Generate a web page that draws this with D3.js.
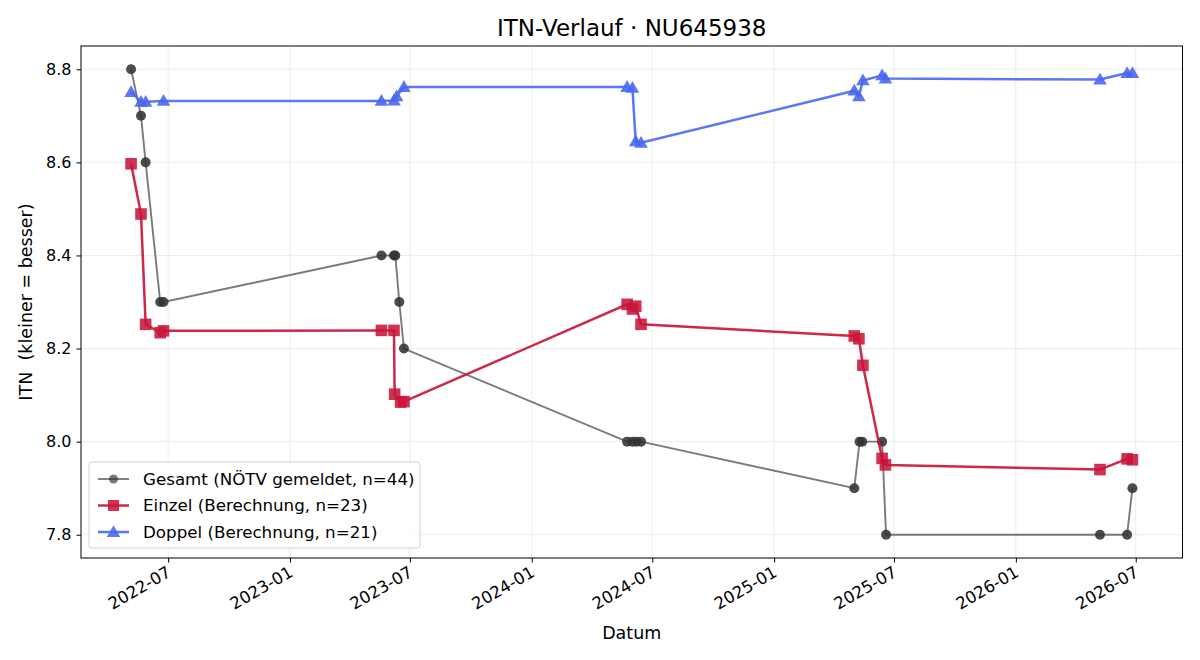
<!DOCTYPE html>
<html>
<head>
<meta charset="utf-8">
<script src="https://cdn.jsdelivr.net/npm/d3@7"></script>
<style>
  body { margin: 0; background: #fff; }
  svg { font-family: "DejaVu Sans", sans-serif; }
</style>
</head>
<body>
<div id="chart"></div>
<script>
// Gesamt (NÖTV gemeldet)
var gesamtDates = ["2022-05-06","2022-05-21","2022-05-28","2022-06-19","2022-06-24",
  "2023-05-19","2023-06-07","2023-06-09","2023-06-15","2023-06-22",
  "2024-05-24","2024-06-01","2024-06-07","2024-06-14",
  "2025-05-02","2025-05-10","2025-05-14","2025-06-13","2025-06-19",
  "2026-05-08","2026-06-18","2026-06-26"];
var gesamtValues = [8.8, 8.7, 8.6, 8.3, 8.3,
  8.4, 8.4, 8.4, 8.3, 8.2,
  8.0, 8.0, 8.0, 8.0,
  7.9, 8.0, 8.0, 8.0, 7.8,
  7.8, 7.8, 7.9];

// Einzel (Berechnung)
var einzelDates = ["2022-05-06","2022-05-21","2022-05-28","2022-06-19","2022-06-24",
  "2023-05-19","2023-06-07","2023-06-08","2023-06-17","2023-06-22",
  "2024-05-24","2024-06-01","2024-06-06","2024-06-14",
  "2025-05-02","2025-05-09","2025-05-15","2025-06-13","2025-06-18",
  "2026-05-08","2026-06-18","2026-06-26"];
var einzelValues = [8.597, 8.489, 8.252, 8.234, 8.238,
  8.239, 8.239, 8.102, 8.085, 8.086,
  8.295, 8.285, 8.291, 8.252,
  8.227, 8.221, 8.164, 7.964, 7.950,
  7.940, 7.963, 7.961];

// Doppel (Berechnung)
var doppelDates = ["2022-05-06","2022-05-21","2022-05-28","2022-06-24",
  "2023-05-19","2023-06-07","2023-06-11","2023-06-22",
  "2024-05-24","2024-06-01","2024-06-06","2024-06-14",
  "2025-05-02","2025-05-09","2025-05-15","2025-06-13","2025-06-18",
  "2026-05-08","2026-06-18","2026-06-26"];
var doppelValues = [8.751, 8.730, 8.730, 8.732,
  8.732, 8.733, 8.742, 8.762,
  8.762, 8.760, 8.645, 8.642,
  8.754, 8.742, 8.776, 8.787, 8.780,
  8.778, 8.792, 8.792];

var yTicks = [7.8, 8.0, 8.2, 8.4, 8.6, 8.8];
var legendLabels = ["Gesamt (NÖTV gemeldet, n=44)", "Einzel (Berechnung, n=23)", "Doppel (Berechnung, n=21)"];

var parseDate = d3.timeParse("%Y-%m-%d");
function zipSeries(dates, values) {
  return dates.map(function(d, i) { return {date: parseDate(d), value: values[i]}; });
}
var gesamt = zipSeries(gesamtDates, gesamtValues),
    einzel = zipSeries(einzelDates, einzelValues),
    doppel = zipSeries(doppelDates, doppelValues);

var W = 1200, H = 660;
var margin = {top: 46, right: 17.5, bottom: 102, left: 81},
    width = W - margin.left - margin.right,
    height = H - margin.top - margin.bottom;

var all = gesamt.concat(einzel, doppel);
var xExt = d3.extent(all, function(d) { return +d.date; });
var xPad = (xExt[1] - xExt[0]) * 0.05;
var x = d3.scaleTime()
    .domain([new Date(xExt[0] - xPad), new Date(xExt[1] + xPad)])
    .range([0, width]);

var yExt = d3.extent(all, function(d) { return d.value; });
var yPad = (yExt[1] - yExt[0]) * 0.05;
var y = d3.scaleLinear()
    .domain([yExt[0] - yPad, yExt[1] + yPad])
    .range([height, 0]);

var svg = d3.select("#chart").append("svg")
    .attr("width", W)
    .attr("height", H);

var g = svg.append("g")
    .attr("transform", "translate(" + margin.left + "," + margin.top + ")");

var xTicks = d3.timeMonth.every(6).range(x.domain()[0], x.domain()[1]);

// grid
g.append("g").selectAll("line")
    .data(xTicks)
    .enter().append("line")
    .attr("x1", function(d) { return x(d); })
    .attr("x2", function(d) { return x(d); })
    .attr("y1", 0).attr("y2", height)
    .attr("stroke", "#b0b0b0").attr("stroke-opacity", 0.3).attr("stroke-width", 0.8);
g.append("g").selectAll("line")
    .data(yTicks)
    .enter().append("line")
    .attr("x1", 0).attr("x2", width)
    .attr("y1", function(d) { return y(d); })
    .attr("y2", function(d) { return y(d); })
    .attr("stroke", "#b0b0b0").attr("stroke-opacity", 0.3).attr("stroke-width", 0.8);

var line = d3.line()
    .x(function(d) { return x(d.date); })
    .y(function(d) { return y(d.value); });

// Gesamt
g.append("path").datum(gesamt)
    .attr("fill", "none").attr("stroke", "#333").attr("stroke-opacity", 0.65)
    .attr("stroke-width", 1.9).attr("d", line);
g.append("g").selectAll("circle")
    .data(gesamt).enter().append("circle")
    .attr("cx", function(d) { return x(d.date); })
    .attr("cy", function(d) { return y(d.value); })
    .attr("r", 5)
    .attr("fill", "#333").attr("fill-opacity", 0.88);

// Einzel
var einzelColor = "#c8163a";
g.append("path").datum(einzel)
    .attr("fill", "none").attr("stroke", einzelColor).attr("stroke-opacity", 0.92)
    .attr("stroke-width", 2.5).attr("d", line);
g.append("g").selectAll("rect")
    .data(einzel).enter().append("rect")
    .attr("x", function(d) { return x(d.date) - 5.8; })
    .attr("y", function(d) { return y(d.value) - 5.8; })
    .attr("width", 11.6).attr("height", 11.6)
    .attr("fill", einzelColor).attr("fill-opacity", 0.88);

// Doppel
var doppelColor = "#4a68ef";
var tri = d3.symbol().type(d3.symbolTriangle).size(80);
g.append("path").datum(doppel)
    .attr("fill", "none").attr("stroke", doppelColor).attr("stroke-opacity", 0.9)
    .attr("stroke-width", 2.5).attr("d", line);
g.append("g").selectAll("path")
    .data(doppel).enter().append("path")
    .attr("transform", function(d) { return "translate(" + x(d.date) + "," + (y(d.value) + 1) + ")"; })
    .attr("d", tri)
    .attr("fill", doppelColor).attr("fill-opacity", 0.9);

// frame
g.append("rect")
    .attr("width", width).attr("height", height)
    .attr("fill", "none").attr("stroke", "#000").attr("stroke-width", 1);

// axes
var xAxis = d3.axisBottom(x)
    .tickValues(xTicks)
    .tickFormat(d3.timeFormat("%Y-%m"))
    .tickSize(4.5).tickPadding(3);
var xg = g.append("g")
    .attr("transform", "translate(0," + height + ")")
    .call(xAxis);
xg.select(".domain").remove();
xg.selectAll(".tick line").attr("stroke", "#000");
xg.selectAll("text")
    .attr("font-family", "DejaVu Sans")
    .attr("font-size", 16.5)
    .attr("fill", "#000")
    .style("text-anchor", "end")
    .attr("dy", "0.7em")
    .attr("transform", "translate(-6,1) rotate(-30)");

var yAxis = d3.axisLeft(y)
    .tickValues(yTicks)
    .tickFormat(d3.format(".1f"))
    .tickSize(4.5).tickPadding(5);
var yg = g.append("g").call(yAxis);
yg.select(".domain").remove();
yg.selectAll(".tick line").attr("stroke", "#000");
yg.selectAll("text")
    .attr("font-family", "DejaVu Sans")
    .attr("font-size", 16)
    .attr("fill", "#000");

// labels
svg.append("text")
    .attr("x", margin.left + width / 2).attr("y", 36)
    .attr("text-anchor", "middle")
    .attr("font-size", 23)
    .text("ITN-Verlauf · NU645938");

svg.append("text")
    .attr("x", margin.left + width / 2).attr("y", 639)
    .attr("text-anchor", "middle")
    .attr("font-size", 17.5)
    .text("Datum");

svg.append("text")
    .attr("transform", "translate(32," + (margin.top + height / 2) + ") rotate(-90)")
    .attr("text-anchor", "middle")
    .attr("font-size", 17.5)
    .style("white-space", "pre")
    .text("ITN  (kleiner = besser)");

// legend
var legend = g.append("g")
    .attr("transform", "translate(8," + (height - 96) + ")");
legend.append("rect")
    .attr("width", 331).attr("height", 86)
    .attr("rx", 3)
    .attr("fill", "#fff").attr("fill-opacity", 0.8)
    .attr("stroke", "#d0d0d0");

var items = legend.selectAll(".item")
    .data(legendLabels)
    .enter().append("g")
    .attr("class", "item")
    .attr("transform", function(d, i) { return "translate(0," + (17 + i * 26.5) + ")"; });

items.append("line")
    .attr("x1", 9).attr("x2", 40)
    .attr("stroke", function(d, i) { return ["#333", einzelColor, doppelColor][i]; })
    .attr("stroke-opacity", function(d, i) { return [0.65, 0.92, 0.9][i]; })
    .attr("stroke-width", function(d, i) { return i == 0 ? 1.9 : 2.5; });

items.each(function(d, i) {
  var it = d3.select(this);
  if (i == 0) {
    it.append("circle").attr("cx", 24.5).attr("r", 4.5)
      .attr("fill", "#333").attr("fill-opacity", 0.65);
  } else if (i == 1) {
    it.append("rect").attr("x", 19).attr("y", -5.5).attr("width", 11).attr("height", 11)
      .attr("fill", einzelColor).attr("fill-opacity", 0.88);
  } else {
    it.append("path").attr("transform", "translate(24.5,1)").attr("d", tri)
      .attr("fill", doppelColor).attr("fill-opacity", 0.9);
  }
});

items.append("text")
    .attr("x", 54).attr("dy", "0.35em")
    .attr("font-size", 16.7)
    .text(function(d) { return d; });
</script>
</body>
</html>
